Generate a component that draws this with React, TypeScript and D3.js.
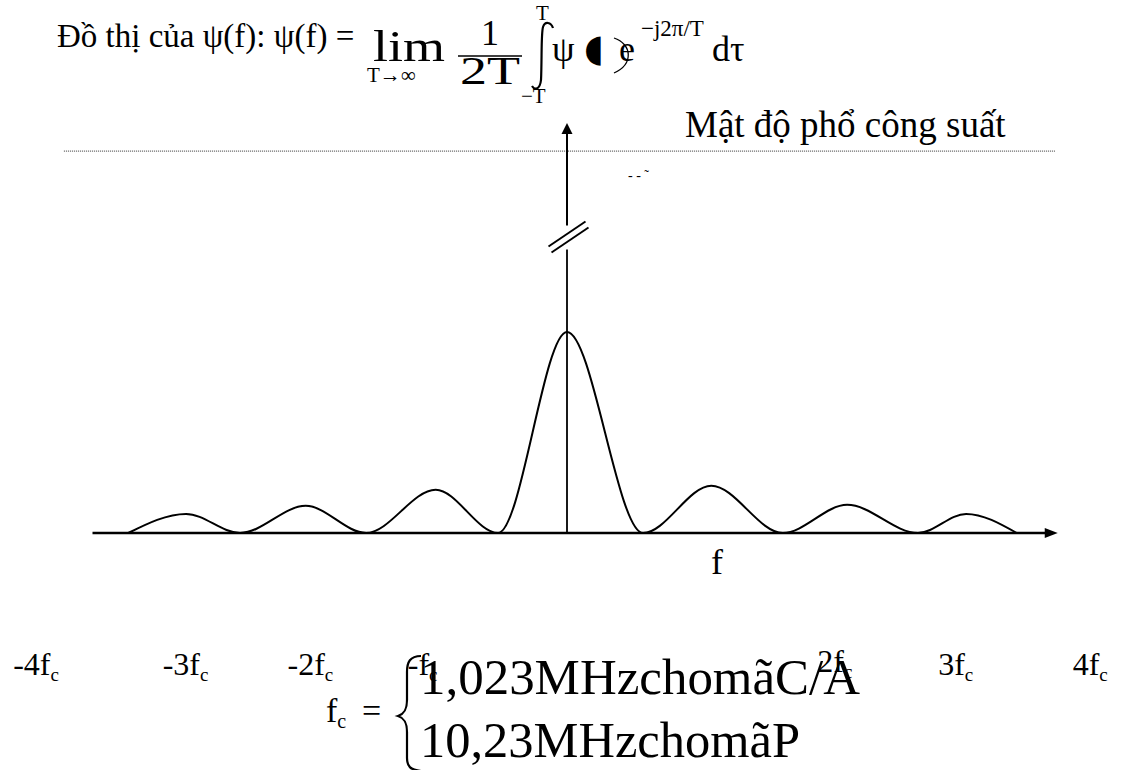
import React, { useRef, useEffect } from "react";
import { select, scaleLinear, line, curveMonotoneX } from "d3";

// mật độ phổ công suất (tần số theo đơn vị tương đối, công suất chuẩn hoá)
const lobeFreq = [-6.75, -5.86, -5.03, -4.02, -3.09, -2.02, -1.06, 0, 1.17, 2.22, 3.32, 4.31, 5.4, 6.14, 6.92];
const lobePower = [0, 0.095, 0, 0.135, 0, 0.215, 0, 1, 0, 0.235, 0, 0.14, 0, 0.095, 0];

// nhãn dưới trục f
const labelFreq = [-8.52, -6.22, -4.3, -2.45, 3.85, 5.71, 7.78];
const labelText = ["-4f", "-3f", "-2f", "-f", "2f", "3f", "4f"];

const fcLines = ["1,023MHzchomãC/A", "10,23MHzchomãP"];

const W = 1125;
const H = 770;
const serif = "'Liberation Serif', serif";

function SpectrumChart() {
  const svgRef = useRef<SVGSVGElement>(null);

  useEffect(() => {
    const svg = select(svgRef.current);
    svg.select("g.marks").remove();
    const g = svg.append("g").attr("class", "marks");

    var x = scaleLinear().domain([-8, 8]).range([47, 1087]);
    var y = scaleLinear().domain([0, 1]).range([533, 332]);

    // đường chấm ngang
    g.append("line")
      .attr("x1", x(-7.74)).attr("x2", x(7.51))
      .attr("y1", y(1.9)).attr("y2", y(1.9))
      .attr("stroke", "#333").attr("stroke-width", 1)
      .attr("stroke-dasharray", "1,1");

    // trục f
    const axEnd = x(7.55);
    g.append("line")
      .attr("x1", x(-7.3)).attr("x2", axEnd - 6)
      .attr("y1", y(0)).attr("y2", y(0))
      .attr("stroke", "#000").attr("stroke-width", 2.5);
    g.append("path")
      .attr("d", `M${axEnd},${y(0)} L${axEnd - 13},${y(0) - 5} L${axEnd - 13},${y(0) + 5} Z`)
      .attr("fill", "#000");

    // trục đứng có chỗ ngắt
    const x0 = x(0);
    const top = y(2.04);
    g.append("line")
      .attr("x1", x0).attr("x2", x0)
      .attr("y1", y(0)).attr("y2", y(1.41))
      .attr("stroke", "#000").attr("stroke-width", 1.8);
    g.append("line")
      .attr("x1", x0).attr("x2", x0)
      .attr("y1", y(1.53)).attr("y2", top + 8)
      .attr("stroke", "#000").attr("stroke-width", 2);
    g.append("path")
      .attr("d", `M${x0},${top} L${x0 - 5.5},${top + 11} L${x0 + 5.5},${top + 11} Z`)
      .attr("fill", "#000");
    const yb = y(1.47);
    [-3, 3].forEach((o) => {
      g.append("line")
        .attr("x1", x0 - 17 + o * 0.5).attr("y1", yb + 12 + o)
        .attr("x2", x0 + 20 + o * 0.5).attr("y2", yb - 13 + o)
        .attr("stroke", "#000").attr("stroke-width", 2);
    });

    // đường phổ
    const pts = lobeFreq.map((f, i) => [f, lobePower[i]] as [number, number]);
    const gen = line<[number, number]>()
      .x((d) => x(d[0]))
      .y((d) => y(d[1]))
      .curve(curveMonotoneX);
    g.append("path")
      .attr("d", gen(pts))
      .attr("fill", "none")
      .attr("stroke", "#000")
      .attr("stroke-width", 2);

    // nhãn -4fc ... 4fc
    labelFreq.forEach((f, i) => {
      const t = g.append("text")
        .attr("x", x(f)).attr("y", i == 4 ? 672 : 675)
        .attr("font-family", serif).attr("font-size", 32)
        .text(labelText[i]);
      t.append("tspan").attr("font-size", 19).attr("dy", 6).text("c");
    });
  }, []);

  return (
    <svg ref={svgRef} width={W} height={H}
      style={{ position: "absolute", left: 0, top: 0, background: "#fff" }}>
      <g fontFamily={serif} fill="#000">
        <text x={57} y={47} fontSize={33}>Đồ thị của ψ(f): ψ(f) =</text>
        <text x={373} y={61} fontSize={44} textLength={72} lengthAdjust="spacingAndGlyphs">lim</text>
        <text x={367} y={82} fontSize={21}>T→∞</text>
        <text x={481} y={45} fontSize={36}>1</text>
        <line x1={458} x2={522} y1={56} y2={56} stroke="#000" strokeWidth={1.5} />
        <text x={460} y={84} fontSize={40} textLength={60} lengthAdjust="spacingAndGlyphs">2T</text>
        <text x={536} y={20} fontSize={21}>T</text>
        <path d="M553,28 C551,22 545,21 543,27 C541,34 542,60 541,80 C540,89 535,91 532,86"
          fill="none" stroke="#000" strokeWidth={2.2} />
        <text x={521} y={103} fontSize={21}>−T</text>
        <text x={552} y={61} fontSize={36}>ψ</text>
        <text x={584} y={61} fontSize={38} fontFamily="'DejaVu Sans'">◖</text>
        <text x={619} y={61} fontSize={36}>e</text>
        <path d="M614,38 C632,44 634,64 614,73" fill="none" stroke="#000" strokeWidth={1.3} />
        <text x={641} y={36} fontSize={23}>−j2π/T</text>
        <text x={712} y={61} fontSize={36}>dτ</text>

        <text x={685} y={137} fontSize={37}>Mật độ phổ công suất</text>
        <text x={628} y={180} fontSize={14}>- -  ˜</text>
        <text x={711} y={574} fontSize={36}>f</text>

        <text x={326} y={722} fontSize={34}>f<tspan fontSize={20} dy={6}>c</tspan></text>
        <text x={362} y={722} fontSize={34}>=</text>
        <path d="M421,656 C410,656 407,662 407,672 L407,700 C407,710 404,714 398,716 C404,718 407,722 407,732 L407,758 C407,766 410,770 421,771"
          fill="none" stroke="#000" strokeWidth={2.2} />
        <text x={420} y={694} fontSize={50} textLength={440} lengthAdjust="spacingAndGlyphs">{fcLines[0]}</text>
        <text x={420} y={757} fontSize={50} textLength={380} lengthAdjust="spacingAndGlyphs">{fcLines[1]}</text>
      </g>
    </svg>
  );
}

export default function App() {
  return <SpectrumChart />;
}
